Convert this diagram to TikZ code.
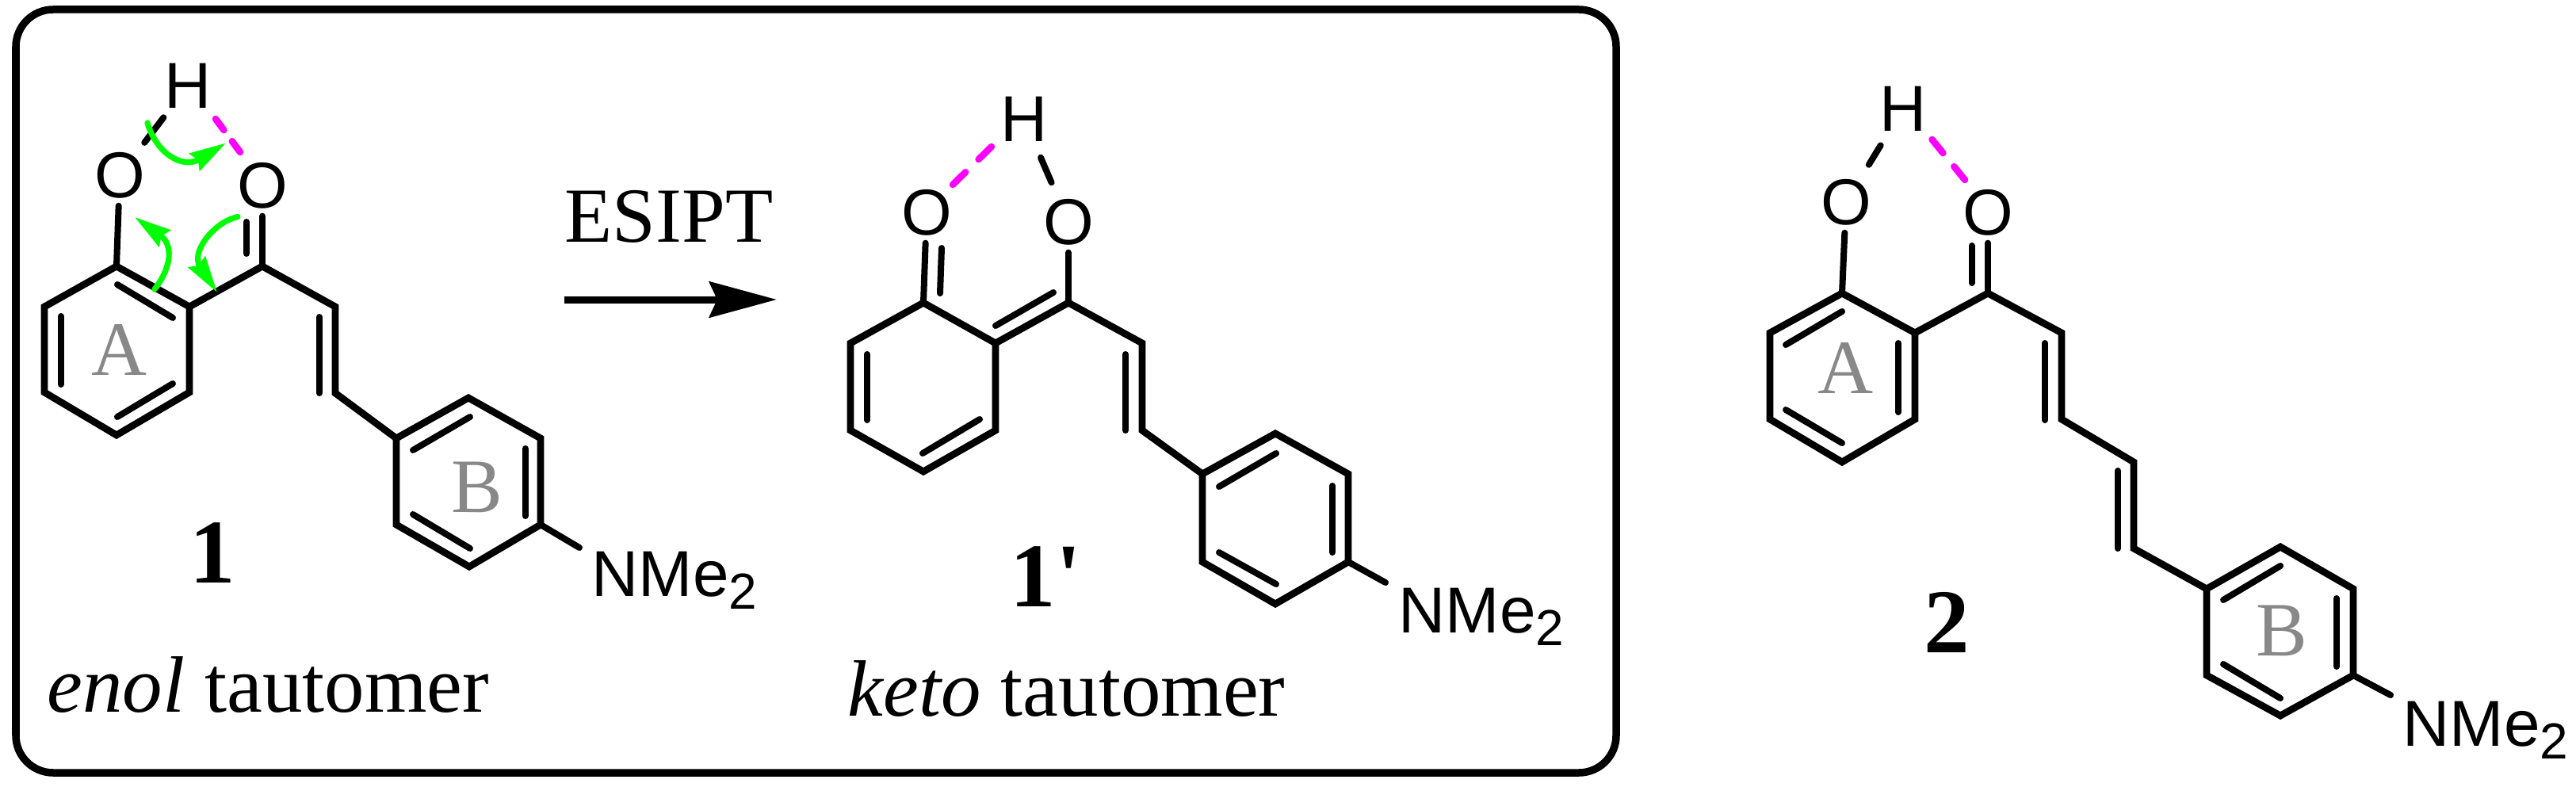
\documentclass[tikz,border=0pt]{standalone}
\usepackage{fontspec}
\usepackage{tikz}
\usetikzlibrary{arrows.meta}
\newfontfamily\capfont{Liberation Serif}
\newfontfamily\atomfont{Liberation Sans}
\definecolor{hbondpink}{RGB}{255,0,255}
\definecolor{curlygreen}{RGB}{0,255,0}
\definecolor{ringgrey}{RGB}{136,136,136}
\newcommand{\nmetwo}{NMe\raisebox{-0.16cm}{\fontsize{18.2}{20}\selectfont 2}}
\tikzset{
	bond/.style={line width=0.088cm},
	innerbond/.style={line width=0.08cm},
	atom/.style={font=\atomfont\fontsize{23.3}{25}\selectfont,inner sep=0.09cm},
	amine/.style={font=\atomfont\fontsize{23.3}{25}\selectfont,inner sep=0,anchor=base west},
	ringname/.style={font=\capfont\fontsize{27.6}{30}\selectfont,text=ringgrey,inner sep=0,anchor=base},
	molname/.style={font=\capfont\bfseries\fontsize{32.7}{36}\selectfont,inner sep=0},
	caption/.style={font=\capfont\fontsize{28.7}{32}\selectfont,inner sep=0,anchor=base west},
	hbond/.style={draw=hbondpink,line width=0.085cm,line cap=round,dash pattern=on #1cm off #1cm},
	curly/.style={draw=curlygreen,line width=0.072cm,line cap=round,
		-{Stealth[length=0.46cm,width=0.25cm,inset=0.05cm,fill=curlygreen]}}
}
\begin{document}
\begin{tikzpicture}[x=1cm,y=-1cm]
		\useasboundingbox (0,0) rectangle (32.5,9.93);

		% enol form
		\coordinate (eA1) at (1.47,3.36);
		\coordinate (eA2) at (2.39,3.87);
		\coordinate (eA3) at (2.39,4.95);
		\coordinate (eA4) at (1.47,5.49);
		\coordinate (eA5) at (0.56,4.95);
		\coordinate (eA6) at (0.56,3.87);
		\coordinate (eC1) at (3.31,3.36);
		\coordinate (eC2) at (4.23,3.87);
		\coordinate (eC3) at (4.23,4.96);
		\coordinate (eB1) at (5.00,5.53);
		\coordinate (eB2) at (5.91,5.02);
		\coordinate (eB3) at (6.82,5.53);
		\coordinate (eB4) at (6.82,6.62);
		\coordinate (eB5) at (5.92,7.15);
		\coordinate (eB6) at (5.00,6.62);
		\coordinate (eNb) at (7.31,6.91);
		\coordinate (ea1) at (1.48,3.59);
		\coordinate (ea2) at (2.18,4.01);
		\coordinate (ea3) at (2.18,4.84);
		\coordinate (ea4) at (1.48,5.26);
		\coordinate (ea5) at (0.77,4.85);
		\coordinate (ea6) at (0.77,3.99);
		\coordinate (ec1) at (3.11,2.80);
		\coordinate (ec2) at (3.11,3.20);
		\coordinate (ec3) at (4.03,4.00);
		\coordinate (ec4) at (4.03,4.96);
		\coordinate (eb1) at (5.21,5.68);
		\coordinate (eb2) at (5.93,5.26);
		\coordinate (eb3) at (6.625,5.66);
		\coordinate (eb4) at (6.625,6.51);
		\coordinate (eb5) at (5.93,6.92);
		\coordinate (eb6) at (5.21,6.49);
		\node[atom] (eO1) at (1.51,2.21) {O};
		\node[atom] (eO2) at (3.31,2.34) {O};
		\node[atom] (eH) at (2.37,1.08) {H};
		\node[amine] (eN) at (7.46,7.52) {\nmetwo};
		\node[ringname] (eRA) at (1.51,4.73) {A};
		\node[ringname] (eRB) at (6.02,6.46) {B};
		\node[molname,anchor=base] (eName) at (2.68,7.35) {1};
		\node[caption] (eCap) at (0.59,8.98) {\textit{enol} tautomer};

		% keto form
		\coordinate (kA1) at (11.65,3.82);
		\coordinate (kA2) at (12.56,4.33);
		\coordinate (kA3) at (12.56,5.43);
		\coordinate (kA4) at (11.65,5.95);
		\coordinate (kA5) at (10.73,5.43);
		\coordinate (kA6) at (10.73,4.33);
		\coordinate (kC1) at (13.48,3.82);
		\coordinate (kC2) at (14.41,4.33);
		\coordinate (kC3) at (14.41,5.43);
		\coordinate (kB1) at (15.17,5.98);
		\coordinate (kB2) at (16.09,5.47);
		\coordinate (kB3) at (17.01,5.98);
		\coordinate (kB4) at (17.01,7.09);
		\coordinate (kB5) at (16.09,7.62);
		\coordinate (kB6) at (15.17,7.09);
		\coordinate (kNb) at (17.48,7.35);
		\coordinate (ka1) at (10.94,4.47);
		\coordinate (ka2) at (10.94,5.30);
		\coordinate (ka3) at (11.64,5.72);
		\coordinate (ka4) at (12.36,5.29);
		\coordinate (ka5) at (12.56,4.11);
		\coordinate (ka6) at (13.29,3.69);
		\coordinate (kc1) at (11.86,3.70);
		\coordinate (kc2) at (11.88,3.13);
		\coordinate (kc3) at (14.20,4.47);
		\coordinate (kc4) at (14.20,5.43);
		\coordinate (kb1) at (15.38,6.14);
		\coordinate (kb2) at (16.10,5.72);
		\coordinate (kb3) at (16.81,6.13);
		\coordinate (kb4) at (16.81,6.97);
		\coordinate (kb5) at (16.10,7.37);
		\coordinate (kb6) at (15.38,6.97);
		\node[atom] (kO1) at (11.69,2.68) {O};
		\node[atom] (kO2) at (13.48,2.80) {O};
		\node[atom] (kH) at (12.92,1.50) {H};
		\node[amine] (kN) at (17.64,7.98) {\nmetwo};
		\node[molname,anchor=base west] (kName) at (12.74,7.65) {1'};
		\node[caption] (kCap) at (10.69,9.03) {\textit{keto} tautomer};

		% dienone
		\coordinate (dA1) at (23.24,3.70);
		\coordinate (dA2) at (24.16,4.20);
		\coordinate (dA3) at (24.16,5.29);
		\coordinate (dA4) at (23.24,5.83);
		\coordinate (dA5) at (22.33,5.29);
		\coordinate (dA6) at (22.33,4.20);
		\coordinate (dC1) at (25.08,3.70);
		\coordinate (dC2) at (26.01,4.20);
		\coordinate (dC3) at (26.01,5.29);
		\coordinate (dC4) at (26.92,5.83);
		\coordinate (dC5) at (26.92,6.92);
		\coordinate (dB1) at (27.84,7.43);
		\coordinate (dB2) at (28.77,6.90);
		\coordinate (dB3) at (29.69,7.43);
		\coordinate (dB4) at (29.69,8.52);
		\coordinate (dB5) at (28.77,9.03);
		\coordinate (dB6) at (27.84,8.52);
		\coordinate (dNb) at (30.16,8.77);
		\coordinate (da1) at (22.53,4.35);
		\coordinate (da2) at (23.24,3.93);
		\coordinate (da3) at (23.95,4.33);
		\coordinate (da4) at (23.95,5.20);
		\coordinate (da5) at (23.24,5.59);
		\coordinate (da6) at (22.53,5.17);
		\coordinate (dc1) at (24.875,3.10);
		\coordinate (dc2) at (24.875,3.57);
		\coordinate (dc3) at (25.80,4.33);
		\coordinate (dc4) at (25.80,5.30);
		\coordinate (dc5) at (26.72,5.94);
		\coordinate (dc6) at (26.72,6.92);
		\coordinate (db1) at (28.05,7.57);
		\coordinate (db2) at (28.77,7.14);
		\coordinate (db3) at (29.48,7.55);
		\coordinate (db4) at (29.48,8.41);
		\coordinate (db5) at (28.77,8.81);
		\coordinate (db6) at (28.05,8.38);
		\node[atom] (dO1) at (23.29,2.55) {O};
		\node[atom] (dO2) at (25.08,2.68) {O};
		\node[atom] (dH) at (24.01,1.37) {H};
		\node[amine] (dN) at (30.31,9.41) {\nmetwo};
		\node[ringname] (dRA) at (23.28,4.96) {A};
		\node[ringname] (dRB) at (28.79,8.27) {B};
		\node[molname,anchor=base] (dName) at (24.56,8.23) {2};

		% reaction arrow and frame
		\coordinate (box1) at (0.20,0.12);
		\coordinate (box2) at (20.39,9.75);
		\coordinate (go1) at (7.12,3.78);
		\coordinate (go2) at (9.80,3.78);
		\node[font=\capfont\fontsize{28}{32}\selectfont,inner sep=0,anchor=base] (esipt) at (8.44,3.05) {ESIPT};
		\draw[line width=0.095cm,rounded corners=0.47cm] (box1) rectangle (box2);
		\draw[line width=0.09cm,-{Stealth[length=0.85cm,width=0.45cm,inset=0.1cm]}] (go1) -- (go2);

		% skeletons
		\begin{scope}[bond]
			\draw (eA1) -- (eA2) -- (eA3) -- (eA4) -- (eA5) -- (eA6) -- cycle;
			\draw (eB1) -- (eB2) -- (eB3) -- (eB4) -- (eB5) -- (eB6) -- cycle;
			\draw (eA2) -- (eC1) -- (eC2) -- (eC3) -- (eB1);
			\draw (kA1) -- (kA2) -- (kA3) -- (kA4) -- (kA5) -- (kA6) -- cycle;
			\draw (kB1) -- (kB2) -- (kB3) -- (kB4) -- (kB5) -- (kB6) -- cycle;
			\draw (kA2) -- (kC1) -- (kC2) -- (kC3) -- (kB1);
			\draw (dA1) -- (dA2) -- (dA3) -- (dA4) -- (dA5) -- (dA6) -- cycle;
			\draw (dB1) -- (dB2) -- (dB3) -- (dB4) -- (dB5) -- (dB6) -- cycle;
			\draw (dA2) -- (dC1) -- (dC2) -- (dC3) -- (dC4) -- (dC5) -- (dB1);
		\end{scope}

		\begin{scope}[every edge/.style={draw=black,innerbond,line cap=round}]
			\path (ea1) edge (ea2);
			\path (ea3) edge (ea4);
			\path (ea5) edge (ea6);
			\path (ec1) edge (ec2);
			\path (ec3) edge (ec4);
			\path (eb1) edge (eb2);
			\path (eb3) edge (eb4);
			\path (eb5) edge (eb6);
			\path (eA1) edge (eO1);
			\path (eC1) edge (eO2);
			\path (eB4) edge (eNb);
			\path (eO1) edge[shorten >=0.03cm,shorten <=0.03cm] (eH);
			\path (ka1) edge (ka2);
			\path (ka3) edge (ka4);
			\path (ka5) edge (ka6);
			\path (kc1) edge (kc2);
			\path (kc3) edge (kc4);
			\path (kb1) edge (kb2);
			\path (kb3) edge (kb4);
			\path (kb5) edge (kb6);
			\path (kA1) edge (kO1);
			\path (kC1) edge (kO2);
			\path (kB4) edge (kNb);
			\path (kO2) edge[shorten >=0.12cm,shorten <=0.12cm] (kH);
			\path (da1) edge (da2);
			\path (da3) edge (da4);
			\path (da5) edge (da6);
			\path (dc1) edge (dc2);
			\path (dc3) edge (dc4);
			\path (dc5) edge (dc6);
			\path (db1) edge (db2);
			\path (db3) edge (db4);
			\path (db5) edge (db6);
			\path (dA1) edge (dO1);
			\path (dC1) edge (dO2);
			\path (dB4) edge (dNb);
			\path (dO1) edge[shorten >=0.10cm,shorten <=0.10cm] (dH);
		\end{scope}

		% hydrogen bonds
		\coordinate (eh1) at (2.72,1.50);
		\coordinate (eh2) at (3.03,1.92);
		\coordinate (kh1) at (12.51,1.85);
		\coordinate (kh2) at (12.02,2.33);
		\coordinate (dh1) at (24.375,1.76);
		\coordinate (dh2) at (24.79,2.27);
		\draw[hbond=0.175] (eh1) -- (eh2);
		\draw[hbond=0.23] (kh1) -- (kh2);
		\draw[hbond=0.22] (dh1) -- (dh2);

		% electron flow
		\coordinate (g1a) at (1.86,1.55);
		\coordinate (g1b) at (2.85,1.805);
		\coordinate (g2a) at (1.95,3.65);
		\coordinate (g2b) at (1.70,2.74);
		\coordinate (g3a) at (3.00,2.735);
		\coordinate (g3b) at (2.74,3.69);
		\draw[curly] (g1a) .. controls (1.97,1.93) and (2.30,2.14) .. (g1b);
		\draw[curly] (g2a) .. controls (2.18,3.35) and (2.18,3.08) .. (g2b);
		\draw[curly] (g3a) .. controls (2.70,2.80) and (2.40,3.18) .. (g3b);
\end{tikzpicture}
\end{document}
